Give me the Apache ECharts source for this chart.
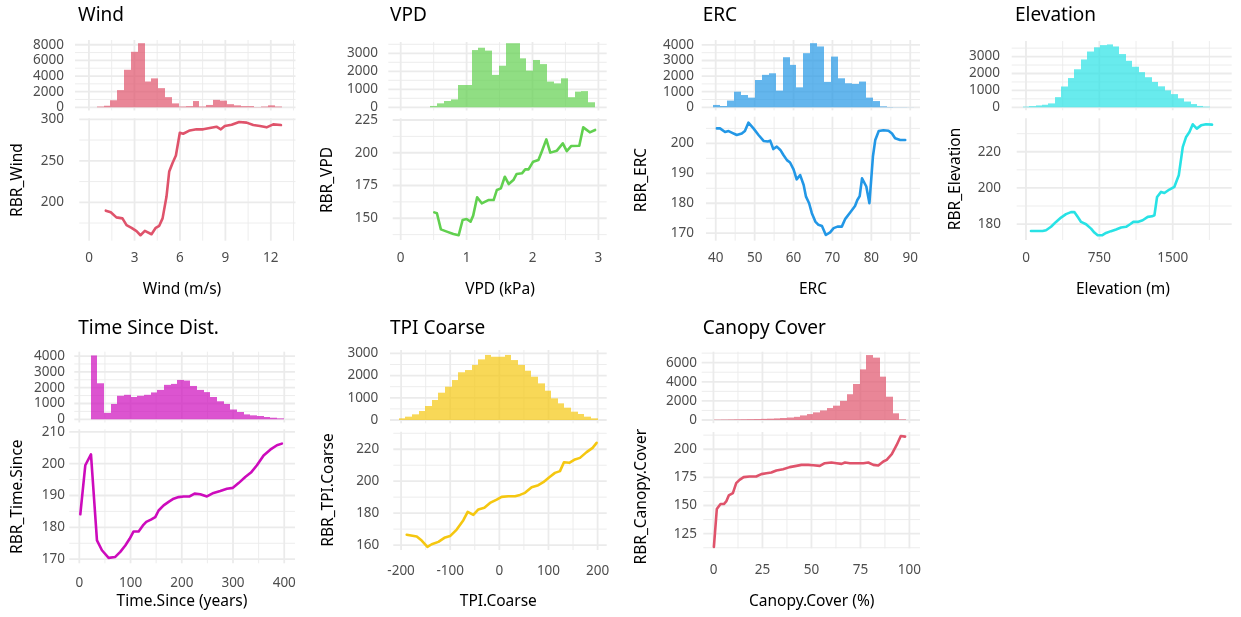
<!DOCTYPE html>
<html>
<head>
<meta charset="utf-8">
<script src="https://cdn.jsdelivr.net/npm/echarts@6/dist/echarts.min.js"></script>
<style>
  html, body { margin: 0; padding: 0; background: #ffffff; }
  #chart { width: 1241px; height: 617px; }
</style>
</head>
<body>
<div id="chart"></div>
<script>
// ---------- Wind ----------
const windBinStart = 0.51;
const windBinWidth = 0.452;
const windCounts = [100, 200, 900, 2200, 4800, 7100, 8200, 3300, 3700, 2450, 1300, 500, 100, 150, 800, 100, 300, 950, 850, 400, 250, 150, 150, 30, 100, 250, 100];
const windX = [1.1, 1.43, 1.8, 2.2, 2.47, 2.8, 3.13, 3.39, 3.68, 4.12, 4.4, 4.63, 4.85, 5.11, 5.29, 5.51, 5.73, 5.99, 6.21, 6.65, 7.09, 7.53, 7.97, 8.41, 8.7, 8.96, 9.41, 9.91, 10.4, 10.84, 11.28, 11.72, 12.16, 12.67];
const windRBR = [189.9, 187.9, 181.8, 180.6, 172.5, 169.2, 165.2, 160.3, 165.6, 161.5, 169.2, 171.7, 180.6, 206.9, 237.2, 247.4, 256.3, 283.8, 282.6, 286.6, 287.9, 287.9, 289.5, 291.1, 287.9, 291.9, 293.5, 296.8, 296, 293.1, 291.9, 290.3, 293.9, 293.1];
const windTicks = [0, 3, 6, 9, 12];
const windHistTicks = [0, 2000, 4000, 6000, 8000];
const windRBRTicks = [200, 250, 300];

// ---------- VPD ----------
const vpdBinStart = 0.45;
const vpdBinWidth = 0.1042;
const vpdCounts = [75, 220, 350, 440, 1240, 1240, 3180, 3310, 3150, 1800, 2310, 3560, 3560, 2720, 2040, 2630, 2400, 1430, 1330, 1610, 560, 870, 900, 280];
const vpdX = [0.51, 0.55, 0.61, 0.70, 0.80, 0.88, 0.94, 1.0, 1.06, 1.10, 1.16, 1.23, 1.33, 1.41, 1.46, 1.52, 1.58, 1.64, 1.71, 1.76, 1.84, 1.89, 1.94, 2.01, 2.09, 2.14, 2.21, 2.27, 2.37, 2.46, 2.52, 2.59, 2.71, 2.77, 2.87, 2.95];
const vpdRBR = [154.5, 153.8, 141.5, 139.8, 138, 137, 148.7, 149.4, 147.4, 152, 166, 161.4, 163.9, 163.9, 171.6, 172.8, 181.7, 176.1, 179.2, 183.8, 184.3, 187.3, 187.3, 193.2, 194.5, 200.8, 210.2, 200.1, 201.6, 207.2, 201.3, 205.2, 205.4, 219.4, 215.6, 217.4];
const vpdTicks = [0, 1, 2, 3];
const vpdHistTicks = [0, 1000, 2000, 3000];
const vpdRBRTicks = [150, 175, 200, 225];

// ---------- ERC ----------
const ercBinStart = 39.4;
const ercBinWidth = 1.78;
const ercCounts = [150, 85, 430, 1000, 790, 620, 1750, 2080, 2180, 1070, 3210, 2720, 1280, 3470, 4110, 3900, 1630, 3250, 1860, 1540, 1500, 1650, 620, 400, 60, 20, 10, 10, 5];
const ercX = [40.3, 41.1, 42.4, 43.3, 44.1, 45.4, 46.7, 47.5, 48.4, 49.7, 51, 52.3, 53.4, 54, 54.8, 55.7, 56.6, 57.4, 58.3, 59.1, 60, 60.8, 61.7, 62.6, 63.2, 64, 64.7, 65.6, 66.4, 67.3, 68.3, 69.4, 70.3, 71.3, 72.4, 73.3, 74.6, 75.8, 76.4, 77, 77.6, 78.7, 79.5, 80.4, 81, 81.9, 83.1, 84.4, 85.3, 86.1, 87.4, 88.7];
const ercRBR = [205, 205, 203.8, 204.1, 203.6, 202.8, 203.3, 204.1, 206.9, 205, 202.8, 200.8, 200.6, 200.9, 198.1, 198.9, 197.8, 196.1, 194.4, 193.6, 191.3, 188, 189.4, 186.1, 182.2, 180, 176.7, 173.9, 172.8, 172.4, 169.4, 170.3, 171.7, 172.2, 172.2, 174.8, 177, 179.1, 181.1, 182.4, 188.3, 185.6, 180, 195.6, 201.1, 204.1, 204.4, 204.2, 203.3, 201.7, 201.1, 201.1];
const ercTicks = [40, 50, 60, 70, 80, 90];
const ercHistTicks = [0, 1000, 2000, 3000, 4000];
const ercRBRTicks = [170, 180, 190, 200];

// ---------- Elevation ----------
const elevBinStart = -34;
const elevBinWidth = 66;
const elevCounts = [40, 70, 110, 150, 230, 600, 1230, 1730, 2250, 2830, 3300, 3550, 3680, 3720, 3600, 3150, 2750, 2400, 2080, 1780, 1500, 1240, 1000, 780, 530, 340, 190, 80, 40];
const elevX = [51, 102, 170, 205, 256, 307, 358, 409, 460, 494, 528, 563, 614, 665, 699, 733, 777, 818, 869, 921, 972, 1023, 1064, 1098, 1142, 1193, 1245, 1289, 1313, 1340, 1381, 1415, 1466, 1517, 1562, 1603, 1637, 1671, 1705, 1746, 1790, 1841, 1902];
const elevRBR = [176.2, 176.2, 176.2, 176.6, 178.5, 181.2, 183.6, 185.5, 186.6, 186.7, 184, 181.2, 179.9, 177.5, 175.3, 173.8, 173.8, 175.1, 176.1, 177, 178.1, 178.5, 179.9, 181.2, 181.2, 182.1, 184, 184.3, 184.9, 195, 197.8, 197.2, 199.1, 200.6, 207, 222.7, 228.2, 230.9, 235.2, 232.8, 234.6, 235.2, 235];
const elevTicks = [0, 750, 1500];
const elevHistTicks = [0, 1000, 2000, 3000];
const elevRBRTicks = [180, 200, 220];

// ---------- Time since disturbance ----------
const timeBinStart = 22;
const timeBinWidth = 13;
const timeCounts = [4040, 2280, 410, 970, 1490, 1550, 1410, 1490, 1550, 1700, 1860, 2180, 2240, 2490, 2450, 2110, 1860, 1720, 1410, 1140, 970, 620, 460, 310, 250, 210, 145, 100, 60];
const timeX = [2, 11.7, 22.8, 34.5, 44.2, 57.2, 70.2, 80, 89.8, 98.2, 106, 115.8, 124.2, 130.7, 139.8, 148.3, 154.8, 164.6, 174.3, 184.1, 193.8, 203.6, 215.3, 225, 236.1, 249.1, 262.1, 275.1, 288.1, 299.8, 310.9, 323.9, 335, 346.7, 359.7, 372.7, 385.7, 395.4];
const timeRBR = [184.1, 199.5, 202.9, 175.9, 172.8, 170.4, 170.7, 172.3, 174.3, 176.4, 178.7, 178.7, 180.6, 181.7, 182.4, 183.2, 185.3, 186.9, 188, 189, 189.5, 189.7, 189.7, 190.6, 190.4, 189.7, 190.8, 191.4, 192.1, 192.4, 193.9, 195.8, 197.2, 199.5, 202.6, 204.4, 205.8, 206.3];
const timeTicks = [0, 100, 200, 300, 400];
const timeHistTicks = [0, 1000, 2000, 3000, 4000];
const timeRBRTicks = [170, 180, 190, 200, 210];

// ---------- TPI coarse ----------
const tpiBinStart = -205;
const tpiBinWidth = 13.5;
const tpiCounts = [75, 150, 255, 405, 630, 900, 1230, 1500, 1800, 2150, 2250, 2480, 2730, 2930, 2850, 2850, 2930, 2700, 2480, 2220, 1950, 1650, 1320, 975, 750, 555, 375, 270, 150, 75];
const tpiX = [-188.5, -168.1, -158, -146.4, -137.6, -124, -111.9, -100.3, -86.8, -73.2, -64.4, -52.9, -42.7, -30.5, -19, -5.4, 4.7, 18.3, 31.9, 42, 52.2, 65.8, 79.3, 89.5, 101.7, 113.2, 123.4, 131.5, 142.4, 153.9, 164.1, 177.6, 189.8, 198];
const tpiRBR = [166.4, 165.3, 162.8, 158.9, 160.5, 162, 164.5, 165.6, 169.7, 175.6, 180.8, 178.9, 182.3, 183.3, 186.4, 188.5, 190.2, 190.6, 190.6, 191.4, 192.7, 196.2, 197.5, 199.4, 202.5, 205.2, 206.3, 211.9, 211.5, 213.6, 214.6, 218.2, 220.9, 224];
const tpiTicks = [-200, -100, 0, 100, 200];
const tpiHistTicks = [0, 1000, 2000, 3000];
const tpiRBRTicks = [160, 180, 200, 220];

// ---------- Canopy cover ----------
const canopyBinStart = 0.5;
const canopyBinWidth = 3.37;
const canopyCounts = [40, 50, 60, 70, 80, 90, 100, 120, 140, 170, 210, 260, 330, 480, 620, 800, 1000, 1250, 1500, 2000, 2700, 3770, 5300, 6800, 6530, 4540, 2440, 700, 70];
const canopyX = [0.2, 1.7, 3.6, 5.3, 6.5, 7.8, 9.9, 11.6, 13.3, 15.4, 18.4, 21.8, 24.4, 27, 29.5, 32.1, 35.5, 38.9, 42.3, 44.9, 48.3, 50.9, 54.3, 56.8, 60.2, 62.8, 65.4, 67.1, 69.6, 73, 76.5, 79, 81.6, 84.1, 86.7, 88.4, 91, 93.5, 95.6, 97.8];
const canopyRBR = [113.2, 146.9, 151.3, 151.3, 153.6, 159, 161, 169.9, 172.8, 175.2, 175.8, 175.8, 177.9, 178.7, 179.3, 181.1, 182.3, 184.1, 185.2, 186.1, 186.1, 185.8, 185.2, 187.6, 188.2, 187.6, 187, 188.2, 187.6, 187.6, 187.6, 188.2, 186.1, 185.5, 189.1, 190.6, 195.6, 203.8, 211.8, 211.2];
const canopyTicks = [0, 25, 50, 75, 100];
const canopyHistTicks = [0, 2000, 4000, 6000];
const canopyRBRTicks = [125, 150, 175, 200];

// ---------- layout & styling ----------
const FONT = '"Noto Sans", "DejaVu Sans", sans-serif';
const TICK_COLOR = '#4D4D4D';
const TICK_SIZE = 13.5;
const GRID_COLOR = '#EBEBEB';

// midpoints between major ticks (plus one step beyond each end) become minor gridlines
function minorsOf(ticks) {
  const step = ticks[1] - ticks[0];
  const out = [ticks[0] - step / 2];
  ticks.forEach(t => out.push(t + step / 2));
  return out;
}

const panels = [
  { title: 'Wind', xTitle: 'Wind (m/s)', yTitle: 'RBR_Wind', color: '#DF536B',
    counts: windCounts, binStart: windBinStart, binWidth: windBinWidth, lx: windX, ly: windRBR,
    xTicks: windTicks, hTicks: windHistTicks, yTicks: windRBRTicks,
    hist: { l: 75, r: 295.5, t: 40, b: 110.5, x: [-0.92, 13.63], y: [-410, 8610], lab: 64 },
    line: { l: 79.3, r: 295.5, t: 118.3, b: 240.7, x: [-0.65, 13.63], y: [153.7, 301.2], lab: 64 },
    xLabY: 258, titlePos: [78, 16], xTitlePos: [182, 290], yTitlePos: [18, 180] },
  { title: 'VPD', xTitle: 'VPD (kPa)', yTitle: 'RBR_VPD', color: '#61D04F',
    counts: vpdCounts, binStart: vpdBinStart, binWidth: vpdBinWidth, lx: vpdX, ly: vpdRBR,
    xTicks: vpdTicks, hTicks: vpdHistTicks, yTicks: vpdRBRTicks,
    hist: { l: 388.3, r: 606.7, t: 42, b: 110.5, x: [-0.188, 3.126], y: [-178, 3628], lab: 378 },
    line: { l: 392.7, r: 606.7, t: 118.3, b: 240, x: [-0.121, 3.126], y: [133.4, 226.3], lab: 378 },
    xLabY: 258, titlePos: [390, 16], xTitlePos: [500, 290], yTitlePos: [328, 180] },
  { title: 'ERC', xTitle: 'ERC', yTitle: 'RBR_ERC', color: '#2297E6',
    counts: ercCounts, binStart: ercBinStart, binWidth: ercBinWidth, lx: ercX, ly: ercRBR,
    xTicks: ercTicks, hTicks: ercHistTicks, yTicks: ercRBRTicks,
    hist: { l: 701.7, r: 920, t: 40, b: 110.4, x: [36.4, 92.5], y: [-199, 4314], lab: 694 },
    line: { l: 706, r: 920, t: 116.7, b: 240.7, x: [37.5, 92.5], y: [167.5, 208.9], lab: 694 },
    xLabY: 258, titlePos: [702.7, 16], xTitlePos: [813, 290], yTitlePos: [641.7, 180] },
  { title: 'Elevation', xTitle: 'Elevation (m)', yTitle: 'RBR_Elevation', color: '#28E2E5',
    counts: elevCounts, binStart: elevBinStart, binWidth: elevBinWidth, lx: elevX, ly: elevRBR,
    xTicks: elevTicks, hTicks: elevHistTicks, yTicks: elevRBRTicks,
    hist: { l: 1011.7, r: 1231.7, t: 41, b: 110.3, x: [-146, 2103], y: [-178, 3923], lab: 1000 },
    line: { l: 1016.7, r: 1231.7, t: 118.3, b: 240, x: [-95, 2103], y: [171.2, 238.5], lab: 1001 },
    xLabY: 258, titlePos: [1015, 16], xTitlePos: [1123, 290], yTitlePos: [956, 179] },
  { title: 'Time Since Dist.', xTitle: 'Time.Since (years)', yTitle: 'RBR_Time.Since', color: '#CD0BBC',
    counts: timeCounts, binStart: timeBinStart, binWidth: timeBinWidth, lx: timeX, ly: timeRBR,
    xTicks: timeTicks, hTicks: timeHistTicks, yTicks: timeRBRTicks,
    hist: { l: 74.3, r: 295, t: 351.7, b: 422.5, x: [-9.8, 421], y: [-203, 4278], lab: 65 },
    line: { l: 69.3, r: 295, t: 429.3, b: 563.3, x: [-19.5, 421], y: [168.7, 210.8], lab: 65 },
    xLabY: 582.7, titlePos: [78.3, 329], xTitlePos: [182, 602], yTitlePos: [17.3, 496.7] },
  { title: 'TPI Coarse', xTitle: 'TPI.Coarse', yTitle: 'RBR_TPI.Coarse', color: '#F5C710',
    counts: tpiCounts, binStart: tpiBinStart, binWidth: tpiBinWidth, lx: tpiX, ly: tpiRBR,
    xTicks: tpiTicks, hTicks: tpiHistTicks, yTicks: tpiRBRTicks,
    hist: { l: 390, r: 606.7, t: 350, b: 423.3, x: [-222.6, 218.5], y: [-149, 3153], lab: 378.3 },
    line: { l: 393.3, r: 606.7, t: 431.7, b: 550, x: [-215.8, 218.5], y: [156.9, 231], lab: 379.3 },
    xLabY: 571, titlePos: [390, 329], xTitlePos: [498.3, 602], yTitlePos: [328.3, 490] },
  { title: 'Canopy Cover', xTitle: 'Canopy.Cover (%)', yTitle: 'RBR_Canopy.Cover', color: '#DF536B',
    counts: canopyCounts, binStart: canopyBinStart, binWidth: canopyBinWidth, lx: canopyX, ly: canopyRBR,
    xTicks: canopyTicks, hTicks: canopyHistTicks, yTicks: canopyRBRTicks,
    hist: { l: 701.7, r: 920, t: 351.7, b: 423.2, x: [-6.0, 105.4], y: [-335, 7152], lab: 697 },
    line: { l: 703.3, r: 920, t: 432, b: 548.3, x: [-5.2, 105.4], y: [112, 215.3], lab: 697 },
    xLabY: 570, titlePos: [702.7, 329], xTitlePos: [811.7, 602], yTitlePos: [641.7, 496.7] }
];

function withAlpha(hex, a) {
  const n = parseInt(hex.slice(1), 16);
  return 'rgba(' + ((n >> 16) & 255) + ',' + ((n >> 8) & 255) + ',' + (n & 255) + ',' + a + ')';
}

// gridline items: [x, y, kind]; kind 0/1 = vertical major/minor, 2/3 = horizontal major/minor
function renderGridLine(params, api) {
  const cs = params.coordSys;
  const kind = api.value(2);
  const p = api.coord([api.value(0), api.value(1)]);
  const shape = kind < 2
    ? { x1: p[0], y1: cs.y, x2: p[0], y2: cs.y + cs.height }
    : { x1: cs.x, y1: p[1], x2: cs.x + cs.width, y2: p[1] };
  return { type: 'line', shape: shape, silent: true,
    style: { stroke: GRID_COLOR, lineWidth: kind % 2 === 0 ? 1.8 : 0.9 } };
}

// histogram bins: [start, end, count]; edges snapped to whole pixels so neighbours meet without seams
function makeBarRenderer(fill) {
  return function (params, api) {
    const top = api.coord([api.value(0), api.value(2)]);
    const base = api.coord([api.value(1), 0]);
    const x0 = Math.round(top[0]);
    const x1 = Math.round(base[0]);
    return { type: 'rect',
      shape: { x: x0, y: top[1], width: x1 - x0, height: base[1] - top[1] },
      style: { fill: fill } };
  };
}

const option = {
  animation: false,
  backgroundColor: '#ffffff',
  grid: [], xAxis: [], yAxis: [], series: [], graphic: []
};

const labelFmt = v => String(v);

panels.forEach(p => {
  const layers = [['hist', p.hist, p.hTicks], ['line', p.line, p.yTicks]];
  layers.forEach(([kind, g, yTicks]) => {
    const gi = option.grid.length;
    option.grid.push({ left: g.l, top: g.t, width: g.r - g.l, height: g.b - g.t });
    option.xAxis.push({
      type: 'value', gridIndex: gi, min: g.x[0], max: g.x[1],
      axisLine: { show: false }, axisTick: { show: false }, splitLine: { show: false },
      axisLabel: kind === 'line'
        ? { show: true, customValues: p.xTicks, formatter: labelFmt, margin: p.xLabY - g.b - 7,
            color: TICK_COLOR, fontSize: TICK_SIZE, fontFamily: FONT }
        : { show: false }
    });
    option.yAxis.push({
      type: 'value', gridIndex: gi, min: g.y[0], max: g.y[1],
      axisLine: { show: false }, axisTick: { show: false }, splitLine: { show: false },
      axisLabel: { show: true, customValues: yTicks, formatter: labelFmt, margin: g.l - g.lab,
        color: TICK_COLOR, fontSize: TICK_SIZE, fontFamily: FONT }
    });

    const inX = v => v >= g.x[0] && v <= g.x[1];
    const inY = v => v >= g.y[0] && v <= g.y[1];
    const lines = [];
    minorsOf(p.xTicks).filter(inX).forEach(v => lines.push([v, g.y[0], 1]));
    minorsOf(yTicks).filter(inY).forEach(v => lines.push([g.x[0], v, 3]));
    p.xTicks.filter(inX).forEach(v => lines.push([v, g.y[0], 0]));
    yTicks.filter(inY).forEach(v => lines.push([g.x[0], v, 2]));
    option.series.push({
      type: 'custom', xAxisIndex: gi, yAxisIndex: gi, silent: true, z: 1,
      renderItem: renderGridLine, encode: { x: 0, y: 1 }, data: lines
    });

    if (kind === 'hist') {
      const bins = p.counts.map((c, i) => [p.binStart + i * p.binWidth, p.binStart + (i + 1) * p.binWidth, c]);
      option.series.push({
        type: 'custom', xAxisIndex: gi, yAxisIndex: gi, silent: true, z: 2,
        renderItem: makeBarRenderer(withAlpha(p.color, 0.7)),
        encode: { x: [0, 1], y: 2 }, data: bins
      });
    } else {
      option.series.push({
        type: 'line', xAxisIndex: gi, yAxisIndex: gi, silent: true, z: 3,
        showSymbol: false, symbol: 'none',
        lineStyle: { color: p.color, width: 2.6, join: 'round', cap: 'round' },
        data: p.lx.map((x, i) => [x, p.ly[i]])
      });
    }
  });

  option.graphic.push(
    { type: 'text', x: p.titlePos[0], y: p.titlePos[1], silent: true,
      style: { text: p.title, fill: '#000000', fontSize: 19, fontFamily: FONT, align: 'left', verticalAlign: 'middle' } },
    { type: 'text', x: p.xTitlePos[0], y: p.xTitlePos[1], silent: true,
      style: { text: p.xTitle, fill: '#000000', fontSize: 15.5, fontFamily: FONT, align: 'center', verticalAlign: 'middle' } },
    { type: 'text', x: p.yTitlePos[0], y: p.yTitlePos[1], rotation: Math.PI / 2, silent: true,
      style: { text: p.yTitle, fill: '#000000', fontSize: 15.5, fontFamily: FONT, align: 'center', verticalAlign: 'middle' } }
  );
});

const chart = echarts.init(document.getElementById('chart'), null, { renderer: 'canvas', width: 1241, height: 617 });
chart.setOption(option);
</script>
</body>
</html>
